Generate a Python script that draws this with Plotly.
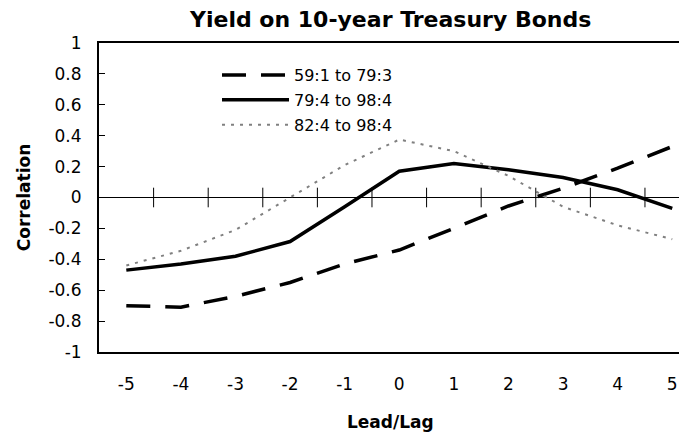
import plotly.graph_objects as go

lags = [-5, -4, -3, -2, -1, 0, 1, 2, 3, 4, 5]
s_59_79 = [-0.70, -0.71, -0.64, -0.55, -0.43, -0.34, -0.20, -0.055, 0.06, 0.19, 0.33]
s_79_98 = [-0.47, -0.43, -0.38, -0.285, -0.06, 0.17, 0.22, 0.18, 0.13, 0.05, -0.07]
s_82_98 = [-0.44, -0.345, -0.21, 0.0, 0.21, 0.375, 0.30, 0.14, -0.06, -0.18, -0.27]
names = ["59:1 to 79:3", "79:4 to 98:4", "82:4 to 98:4"]
tick_bounds = [-4.5, -3.5, -2.5, -1.5, -0.5, 0.5, 1.5, 2.5, 3.5, 4.5]
ytick_vals = [1, 0.8, 0.6, 0.4, 0.2, 0, -0.2, -0.4, -0.6, -0.8, -1]
ytick_text = ["1", "0.8", "0.6", "0.4", "0.2", "0", "-0.2", "-0.4", "-0.6", "-0.8", "-1"]

FONT = "DejaVu Sans, Liberation Sans, Arial, sans-serif"

fig = go.Figure()
fig.add_trace(go.Scatter(x=lags, y=s_59_79, name=names[0], mode="lines", legendgroup="a",
                         line=dict(color="black", width=3.5, dash="24px,15px")))
fig.add_trace(go.Scatter(x=lags, y=s_79_98, name=names[1], mode="lines", legendgroup="b",
                         line=dict(color="black", width=3.5)))
fig.add_trace(go.Scatter(x=lags, y=s_82_98, name=names[2], mode="lines", legendgroup="c",
                         line=dict(color="#808080", width=2, dash="3px,6px")))
# category boundary ticks crossing the zero line
fig.add_trace(go.Scatter(x=tick_bounds, y=[0] * len(tick_bounds), mode="markers",
                         showlegend=False, hoverinfo="skip",
                         marker=dict(symbol="line-ns", size=14,
                                     line=dict(color="black", width=1))))

# The page body has an 8px margin, so the figure is sized/offset to fill the window.
fig.update_layout(
    width=679, height=427,
    margin=dict(l=91, r=0, t=35, b=83, autoexpand=False),
    paper_bgcolor="white", plot_bgcolor="white",
    font=dict(family=FONT, size=17, color="black"),
    showlegend=True,
    legend=dict(x=0.2007, y=0.951, xanchor="left", yanchor="top",
                bgcolor="rgba(0,0,0,0)", font=dict(size=16), itemwidth=67,
                tracegroupgap=1),
    xaxis=dict(range=[-5.5, 5.27], tickvals=lags, ticktext=[str(v) for v in lags],
               showgrid=False, zeroline=False, showline=True, linecolor="black",
               linewidth=2, mirror=True, ticks="", ticklabelstandoff=16,
               tickfont=dict(size=17)),
    yaxis=dict(range=[-1, 1], tickvals=ytick_vals, ticktext=ytick_text,
               showgrid=False, zeroline=True, zerolinecolor="black", zerolinewidth=1,
               showline=True, linecolor="black", linewidth=2, mirror=False,
               ticks="inside", ticklen=6, tickcolor="black", tickwidth=1,
               ticklabelstandoff=12, tickfont=dict(size=17)),
    annotations=[
        dict(text="<b>Yield on 10-year Treasury Bonds</b>", xref="paper", yref="paper",
             x=0.4949, y=1.0, xanchor="center", yanchor="middle", yshift=23.5,
             showarrow=False, font=dict(size=22)),
        dict(text="<b>Lead/Lag</b>", xref="paper", yref="paper",
             x=0.4949, y=0, xanchor="center", yanchor="middle", yshift=-70,
             showarrow=False, font=dict(size=17)),
        dict(text="<b>Correlation</b>", xref="paper", yref="paper",
             x=-0.128, y=0.5, xanchor="center", yanchor="middle",
             textangle=-90, showarrow=False, font=dict(size=17)),
    ],
)

fig.write_html("out.html")
